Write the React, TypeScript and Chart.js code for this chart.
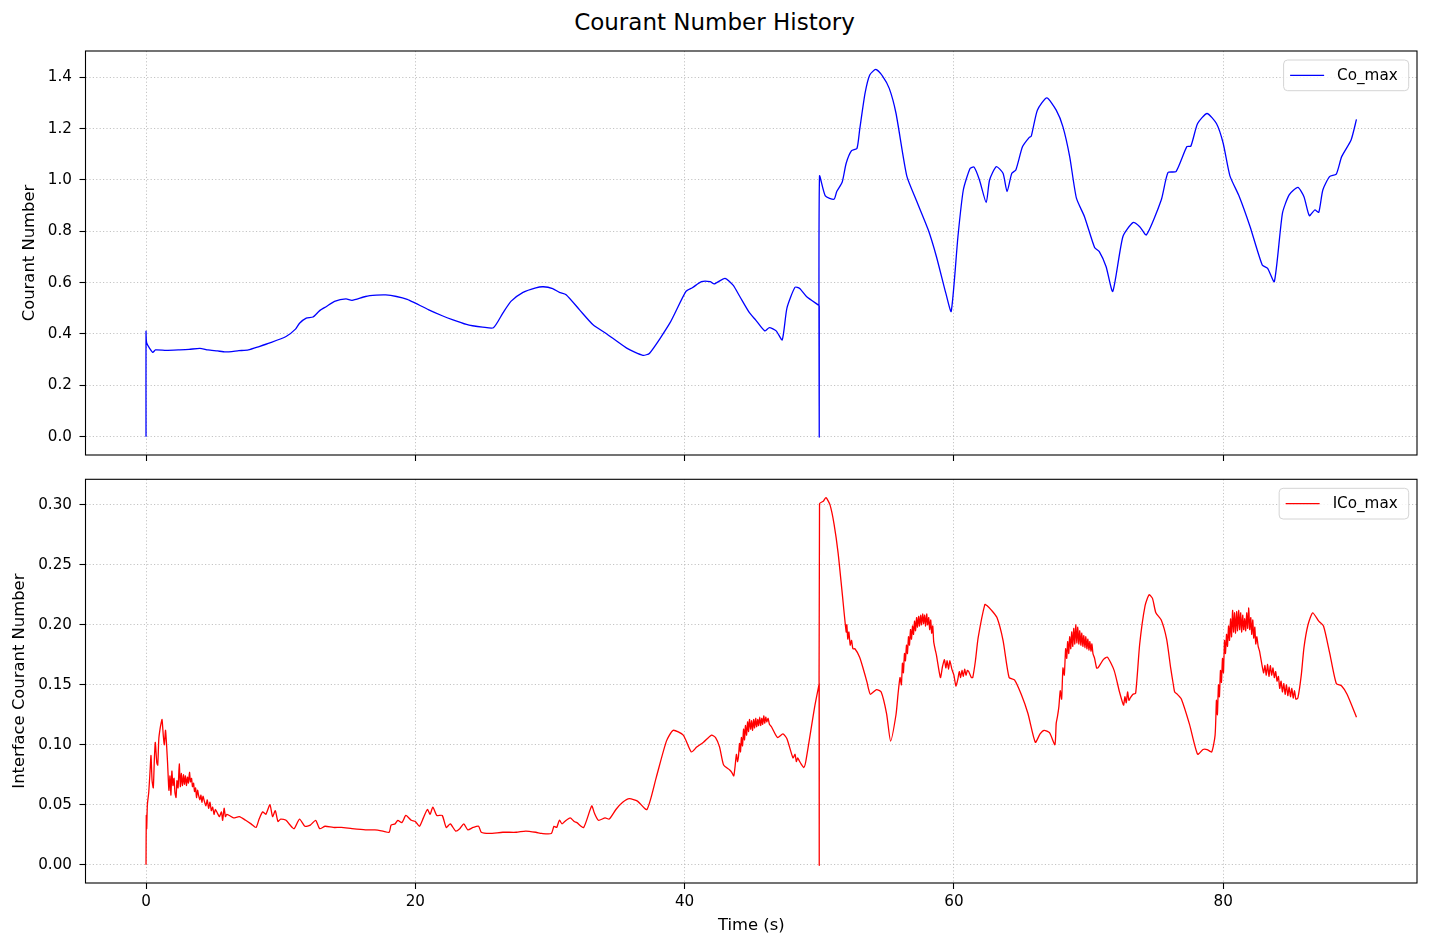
import React, { useEffect, useRef } from 'react';
import { Chart, registerables } from 'chart.js';

Chart.register(...registerables);

const FONT = '"DejaVu Sans", sans-serif';

// Co_max
const coTime = [
  0, 0, 0.05, 0.5, 0.7, 1.5, 2.5, 3.2, 4.0, 4.6, 5.3, 5.9, 6.9, 7.6, 8.4, 9.2, 10.4, 11.1, 11.4, 11.9,
  12.4, 12.9, 13.4, 14.0, 14.85, 15.3, 16.3, 17.1, 17.8, 18.6, 19.4, 20.0, 21.0, 22.0, 22.8, 23.8, 24.25,
  25.0, 25.8, 26.5, 27.1, 28.0, 28.95, 29.5, 30.2, 30.7, 31.2, 32.2, 33.2, 34.2, 35.7, 36.9, 37.4, 38.9,
  40.1, 40.6, 41.25, 41.9, 42.2, 43.0, 43.6, 44.1, 44.8, 45.3, 45.95, 46.3, 46.8, 47.25, 47.6, 48.2, 48.55,
  49.05, 49.98, 50.0, 50.0, 50.02, 50.45, 51.1, 51.3, 51.7, 52.0, 52.4, 52.8, 53.0, 53.4, 53.75, 54.2, 54.7, 55.2,
  55.7, 56.5, 57.2, 58.1, 58.7, 59.4, 59.8, 60.3, 60.7, 61.2, 61.5, 61.9, 62.4, 62.65, 63.15, 63.65, 63.95,
  64.3, 64.6, 65.1, 65.6, 65.75, 66.2, 66.9, 67.6, 68.1, 68.6, 69.1, 69.7, 70.45, 70.8, 71.3, 71.8, 72.55,
  73.3, 73.8, 74.3, 75.4, 75.9, 76.5, 77.3, 77.6, 78.1, 78.8, 79.5, 80.0, 80.5, 81.2, 82.0, 82.9, 83.3,
  83.8, 84.4, 84.9, 85.55, 86.0, 86.4, 86.8, 87.1, 87.4, 87.9, 88.4, 88.8, 89.5, 89.9,
];
const coValues = [
  0.0, 0.41, 0.365, 0.328, 0.338, 0.336, 0.338, 0.34, 0.344, 0.338, 0.334, 0.33, 0.335, 0.338, 0.351, 0.365,
  0.39, 0.419, 0.442, 0.462, 0.466, 0.491, 0.507, 0.527, 0.537, 0.531, 0.546, 0.551, 0.552, 0.546, 0.535,
  0.52, 0.494, 0.471, 0.455, 0.437, 0.432, 0.427, 0.424, 0.481, 0.527, 0.562, 0.58, 0.584, 0.577, 0.562,
  0.553, 0.494, 0.436, 0.401, 0.345, 0.317, 0.325, 0.442, 0.566, 0.581, 0.604, 0.604, 0.595, 0.617, 0.59,
  0.546, 0.484, 0.453, 0.412, 0.425, 0.412, 0.377, 0.501, 0.582, 0.577, 0.546, 0.511, 0.51, 0.0, 1.015, 0.938,
  0.925, 0.955, 0.991, 1.065, 1.114, 1.123, 1.195, 1.337, 1.409, 1.431, 1.405, 1.357, 1.26, 1.016, 0.922,
  0.805, 0.702, 0.559, 0.488, 0.779, 0.961, 1.045, 1.05, 1.0, 0.912, 1.0, 1.052, 1.026, 0.955, 1.026, 1.039,
  1.13, 1.166, 1.171, 1.272, 1.32, 1.272, 1.207, 1.091, 0.929, 0.857, 0.737, 0.721, 0.663, 0.566, 0.779,
  0.834, 0.818, 0.786, 0.922, 1.029, 1.033, 1.13, 1.132, 1.22, 1.259, 1.22, 1.143, 1.016, 0.935, 0.818,
  0.669, 0.656, 0.604, 0.87, 0.942, 0.971, 0.935, 0.861, 0.883, 0.874, 0.961, 1.013, 1.023, 1.091, 1.156,
  1.236,
];

// ICo_max (one line of times per line of values)
const icoTime = [
  0, 0.02, 0.05, 0.1, 0.2, 0.3, 0.37, 0.45, 0.54, 0.62, 0.69, 0.8, 0.87, 0.95, 1.04, 1.12, 1.19, 1.28, 1.36, 1.45, 1.6,
  1.7, 1.78, 1.85, 1.92, 2.0, 2.08, 2.15, 2.23, 2.3, 2.38, 2.47, 2.55, 2.62, 2.7, 2.78, 2.85, 2.93, 3.0, 3.08, 3.15, 3.23, 3.3, 3.38, 3.45, 3.53, 3.6, 3.68, 3.75, 3.83, 3.9, 4.0, 4.08, 4.15, 4.23, 4.33,
  4.45, 4.55, 4.65, 4.75, 4.85, 4.95, 5.05, 5.15, 5.3, 5.45, 5.6, 5.69, 5.8, 5.9, 6.0, 6.19, 6.5, 6.93, 7.4, 7.8, 8.17,
  8.4, 8.66, 8.9, 9.2, 9.4, 9.6, 9.8, 10.0, 10.4, 10.7, 11.0, 11.4, 11.8, 12.2, 12.6, 12.9, 13.3, 13.9, 14.5, 15.3, 16.3, 17.0, 17.6, 18.06,
  18.2, 18.5, 18.7, 19.0, 19.3, 19.7, 20.0, 20.3, 20.6, 20.9, 21.1, 21.3, 21.6, 22.0, 22.3, 22.6, 23.0, 23.3, 23.6, 23.9, 24.3, 24.7, 24.9, 25.5, 26.5, 27.5, 28.2, 28.95, 29.4, 30.1,
  30.3, 30.5, 30.7, 30.9, 31.1, 31.5, 31.8, 32.0, 32.5, 33.1, 33.3, 33.6, 34.1, 34.4, 34.9, 35.4, 35.9, 36.5, 37.2, 37.9, 38.65, 39.15, 39.9, 40.5, 40.9, 41.4, 42.0, 42.3, 42.6, 42.9, 43.35, 43.5, 43.65, 43.75, 43.85, 43.93,
  44.0, 44.08, 44.15, 44.22, 44.3, 44.38, 44.45, 44.52, 44.6, 44.68, 44.75, 44.82, 44.9, 44.98, 45.05, 45.13, 45.2, 45.28, 45.35, 45.43, 45.5, 45.58, 45.65, 45.73, 45.8, 45.88, 45.95, 46.03, 46.1, 46.2, 46.3,
  46.45, 46.9, 47.3, 47.6, 48.05, 48.2, 48.3, 48.4, 48.5, 48.65, 48.85, 49.0, 49.65, 49.98, 50.0, 50.0,
  50.02, 50.3, 50.5, 50.8, 51.1, 51.4, 51.7, 52.0, 52.05, 52.12, 52.2, 52.3, 52.4, 52.5, 52.65, 53.0, 53.25, 53.55, 53.65, 53.8, 54.25, 54.6, 55.0, 55.3, 55.7, 55.85, 56.0,
  56.1, 56.18, 56.25, 56.33, 56.4, 56.48, 56.55, 56.63, 56.7, 56.78, 56.85, 56.93, 57.0, 57.08, 57.15, 57.23, 57.3, 57.38, 57.45, 57.53, 57.6, 57.68, 57.75, 57.83, 57.9, 57.98, 58.05, 58.13, 58.2, 58.28, 58.35, 58.43, 58.5, 58.6,
  58.7, 59.0, 59.15, 59.3, 59.4, 59.5, 59.6, 59.7, 59.85, 60.0, 60.15, 60.3, 60.4, 60.5, 60.6, 60.7, 60.8, 60.9, 61.0, 61.1, 61.3, 61.4, 61.6, 61.8,
  62.3, 62.45, 62.8, 63.2, 63.65, 64.1, 64.5, 65.0, 65.5, 66.05, 66.4, 66.7, 67.1, 67.5, 67.6, 67.7, 67.8, 67.9, 68.0, 68.1, 68.2,
  68.3, 68.38, 68.45, 68.53, 68.6, 68.68, 68.75, 68.83, 68.9, 68.98, 69.05, 69.13, 69.2, 69.28, 69.35, 69.43, 69.5, 69.58, 69.65, 69.73, 69.8, 69.88, 69.95, 70.03, 70.1, 70.18, 70.25, 70.33, 70.45, 70.6,
  70.7, 71.1, 71.4, 71.9, 72.3, 72.6, 72.7, 72.8, 72.9, 73.0, 73.1, 73.3, 73.5, 73.8, 74.2, 74.5, 74.75, 75.0, 75.4, 75.8, 76.1, 76.3, 76.4, 76.6, 76.9, 77.5, 78.1, 78.5, 78.8, 79.15, 79.4,
  79.5, 79.57, 79.65, 79.72, 79.8, 79.87, 79.95, 80.02, 80.1, 80.17, 80.25, 80.32, 80.4, 80.47, 80.55, 80.62, 80.7, 80.77, 80.85, 80.92, 81.0, 81.07, 81.15, 81.22, 81.3, 81.37, 81.45, 81.52, 81.6, 81.67, 81.75, 81.82, 81.9, 81.97, 82.05, 82.12, 82.2, 82.27, 82.35, 82.42, 82.5, 82.6, 82.7,
  83.0, 83.1, 83.2, 83.3, 83.4, 83.5, 83.6, 83.7, 83.8, 83.9, 84.0, 84.1, 84.2, 84.3, 84.4, 84.5, 84.6, 84.7, 84.8, 84.9, 85.0, 85.1, 85.2, 85.3, 85.4, 85.55,
  85.8, 86.0, 86.3, 86.65, 87.1, 87.45, 87.9, 88.4, 88.8, 89.2, 89.9,
];
const icoValues = [
  0.0, 0.041, 0.03, 0.05, 0.06, 0.078, 0.091, 0.07, 0.064, 0.088, 0.102, 0.085, 0.083, 0.105, 0.113, 0.118, 0.121, 0.108, 0.1, 0.112, 0.085,
  0.062, 0.074, 0.058, 0.078, 0.066, 0.072, 0.06, 0.056, 0.07, 0.064, 0.084, 0.065, 0.076, 0.066, 0.075, 0.067, 0.074, 0.066, 0.073, 0.068, 0.077, 0.069, 0.072, 0.065, 0.068, 0.061, 0.064, 0.056, 0.062, 0.058, 0.054, 0.058, 0.052, 0.057, 0.053,
  0.049, 0.054, 0.047, 0.052, 0.045, 0.048, 0.042, 0.046, 0.043, 0.04, 0.044, 0.037, 0.047, 0.04, 0.042, 0.041, 0.039, 0.04, 0.037, 0.034, 0.031,
  0.038, 0.044, 0.042, 0.05, 0.04, 0.045, 0.036, 0.038, 0.037, 0.033, 0.03, 0.038, 0.032, 0.033, 0.037, 0.03, 0.032, 0.031, 0.031, 0.03, 0.029, 0.029, 0.028, 0.027,
  0.033, 0.034, 0.037, 0.035, 0.041, 0.037, 0.036, 0.032, 0.039, 0.046, 0.042, 0.048, 0.041, 0.041, 0.031, 0.034, 0.028, 0.03, 0.034, 0.029, 0.031, 0.032, 0.027, 0.026, 0.027, 0.027, 0.028, 0.027, 0.026, 0.026,
  0.032, 0.031, 0.037, 0.034, 0.036, 0.039, 0.036, 0.035, 0.031, 0.049, 0.043, 0.037, 0.039, 0.038, 0.046, 0.052, 0.055, 0.053, 0.046, 0.073, 0.103, 0.112, 0.108, 0.094, 0.098, 0.102, 0.108, 0.106, 0.098, 0.083, 0.079, 0.077, 0.074, 0.082, 0.092, 0.086,
  0.09, 0.101, 0.094, 0.106, 0.099, 0.113, 0.104, 0.116, 0.108, 0.119, 0.111, 0.121, 0.113, 0.12, 0.112, 0.121, 0.114, 0.122, 0.115, 0.121, 0.116, 0.123, 0.116, 0.122, 0.117, 0.124, 0.118, 0.123, 0.119, 0.122, 0.117,
  0.115, 0.106, 0.109, 0.105, 0.089, 0.092, 0.086, 0.089, 0.087, 0.084, 0.081, 0.086, 0.131, 0.15, 0.151, 0.0,
  0.301, 0.303, 0.306, 0.3, 0.284, 0.26, 0.227, 0.194, 0.2, 0.188, 0.194, 0.183, 0.187, 0.18, 0.18, 0.173, 0.164, 0.152, 0.147, 0.142, 0.146, 0.144, 0.126, 0.103, 0.125, 0.142, 0.156,
  0.15, 0.168, 0.16, 0.176, 0.17, 0.183, 0.176, 0.19, 0.183, 0.196, 0.188, 0.199, 0.192, 0.203, 0.195, 0.206, 0.198, 0.207, 0.199, 0.208, 0.2, 0.209, 0.201, 0.208, 0.199, 0.209, 0.2, 0.206, 0.196, 0.204, 0.193, 0.199, 0.186, 0.18,
  0.175, 0.156, 0.165, 0.171, 0.164, 0.17, 0.163, 0.17, 0.163, 0.158, 0.149, 0.155, 0.161, 0.156, 0.162, 0.157, 0.163, 0.158, 0.162, 0.161, 0.156, 0.156, 0.17, 0.189,
  0.217, 0.216, 0.212, 0.206, 0.187, 0.156, 0.154, 0.142, 0.126, 0.102, 0.109, 0.112, 0.11, 0.1, 0.118, 0.124, 0.132, 0.145, 0.138, 0.164, 0.158,
  0.18, 0.172, 0.186, 0.176, 0.19, 0.18, 0.194, 0.182, 0.197, 0.184, 0.2, 0.185, 0.198, 0.184, 0.195, 0.183, 0.193, 0.182, 0.191, 0.181, 0.19, 0.18, 0.188, 0.179, 0.186, 0.178, 0.184, 0.176, 0.172, 0.164,
  0.164, 0.171, 0.173, 0.162, 0.144, 0.133, 0.14, 0.135, 0.144, 0.137, 0.139, 0.142, 0.143, 0.184, 0.216, 0.225, 0.222, 0.21, 0.204, 0.188, 0.164, 0.15, 0.144, 0.142, 0.138, 0.117, 0.092, 0.096, 0.096, 0.094, 0.108,
  0.137, 0.125, 0.15, 0.14, 0.162, 0.152, 0.172, 0.16, 0.187, 0.176, 0.192, 0.182, 0.199, 0.187, 0.205, 0.19, 0.212, 0.194, 0.21, 0.193, 0.211, 0.195, 0.212, 0.196, 0.21, 0.194, 0.208, 0.196, 0.205, 0.195, 0.21, 0.197, 0.214, 0.196, 0.206, 0.192, 0.204, 0.189, 0.198, 0.184, 0.19, 0.182, 0.178,
  0.16, 0.166, 0.158, 0.167, 0.157, 0.166, 0.158, 0.164, 0.156, 0.161, 0.153, 0.157, 0.147, 0.153, 0.144, 0.151, 0.142, 0.15, 0.141, 0.148, 0.14, 0.147, 0.139, 0.145, 0.138, 0.139,
  0.158, 0.181, 0.2, 0.21, 0.203, 0.199, 0.177, 0.151, 0.149, 0.142, 0.123,
];

const xTicks = [0, 20, 40, 60, 80];
const coTicks = [0, 0.2, 0.4, 0.6, 0.8, 1.0, 1.2, 1.4];
const icoTicks = [0, 0.05, 0.1, 0.15, 0.2, 0.25, 0.3];

// matplotlib-style 5% margins
const padded = (vals: number[]) => {
  const lo = Math.min(...vals);
  const hi = Math.max(...vals);
  const m = (hi - lo) * 0.05;
  return [lo - m, hi + m];
};
const xRange = padded([...coTime, ...icoTime]);

// frame around the axes + boxed legend in upper right corner
const framePlugin = {
  id: 'frameLegend',
  afterDraw(chart: any) {
    const opts = chart.options.plugins.frameLegend;
    const { ctx, chartArea } = chart;
    ctx.save();
    ctx.strokeStyle = '#000';
    ctx.lineWidth = 1.1;
    ctx.strokeRect(chartArea.left, chartArea.top, chartArea.right - chartArea.left, chartArea.bottom - chartArea.top);

    ctx.font = `15.2px ${FONT}`;
    const tw = ctx.measureText(opts.text).width;
    const w = 6.5 + 34 + 13 + tw + 11;
    const h = 30.7;
    const x = chartArea.right - 8.3 - w;
    const y = chartArea.top + 9;
    ctx.beginPath();
    ctx.roundRect(x, y, w, h, 4);
    ctx.fillStyle = 'rgba(255,255,255,0.8)';
    ctx.fill();
    ctx.strokeStyle = '#d4d4d4';
    ctx.lineWidth = 1;
    ctx.stroke();
    ctx.beginPath();
    ctx.moveTo(x + 6.5, y + h / 2);
    ctx.lineTo(x + 40.5, y + h / 2);
    ctx.strokeStyle = opts.color;
    ctx.lineWidth = 1.3;
    ctx.stroke();
    ctx.fillStyle = '#000';
    ctx.textBaseline = 'middle';
    ctx.textAlign = 'left';
    ctx.fillText(opts.text, x + 53.5, y + h / 2 + 0.5);
    ctx.restore();
  },
};

type PanelProps = {
  time: number[];
  values: number[];
  label: string;
  color: string;
  yTitle: string;
  yTicks: number[];
  decimals: number;
  showX: boolean;
  top: number;
  height: number;
  padTop: number;
  xHeight: number;
  titlePad: number;
};

const Panel: React.FC<PanelProps> = (p) => {
  const canvasRef = useRef<HTMLCanvasElement | null>(null);
  const chartRef = useRef<Chart | null>(null);

  useEffect(() => {
    if (!canvasRef.current) return;
    if (chartRef.current) chartRef.current.destroy();
    const yRange = padded(p.values);
    const grid = {
      color: 'rgba(176,176,176,0.75)',
      lineWidth: 1,
      tickColor: '#000',
      tickLength: 6,
      tickWidth: 1.1,
      tickBorderDash: [],
    };
    // in Chart.js 4 the grid line dash lives on the border options
    const border = { display: false, dash: [1.2, 2.2] };
    chartRef.current = new Chart(canvasRef.current, {
      type: 'line',
      data: {
        datasets: [
          {
            label: p.label,
            data: p.time.map((t, i) => ({ x: t, y: p.values[i] })),
            borderColor: p.color,
            borderWidth: 1.3,
            pointRadius: 0,
            tension: 0.2,
            fill: false,
          },
        ],
      },
      plugins: [framePlugin],
      options: {
        responsive: false,
        animation: false,
        events: [],
        layout: { padding: { top: p.padTop, right: 12, bottom: 0, left: 0 } },
        plugins: {
          legend: { display: false },
          tooltip: { enabled: false },
          frameLegend: { text: p.label, color: p.color },
        } as any,
        scales: {
          x: {
            type: 'linear',
            min: xRange[0],
            max: xRange[1],
            border,
            grid,
            afterBuildTicks: (s: any) => {
              s.ticks = xTicks.map((v) => ({ value: v }));
            },
            afterFit: (s: any) => {
              s.height = p.xHeight;
              s.paddingLeft = 0;
              s.paddingRight = 0;
            },
            ticks: {
              padding: 4,
              color: '#000',
              font: { family: FONT, size: 15.2 },
              maxRotation: 0,
              callback: (v: any) => (p.showX ? String(v) : ''),
            },
            title: {
              display: p.showX,
              text: 'Time (s)',
              color: '#000',
              font: { family: FONT, size: 16.4 },
              padding: { top: 0, bottom: 13 },
            },
          },
          y: {
            type: 'linear',
            min: yRange[0],
            max: yRange[1],
            border,
            grid,
            afterBuildTicks: (s: any) => {
              s.ticks = p.yTicks.map((v) => ({ value: v }));
            },
            afterFit: (s: any) => {
              s.width = 85.5;
              s.paddingTop = 0;
              s.paddingBottom = 0;
            },
            ticks: {
              padding: 7.5,
              color: '#000',
              font: { family: FONT, size: 15.2 },
              callback: (v: any) => Number(v).toFixed(p.decimals),
            },
            title: {
              display: true,
              text: p.yTitle,
              color: '#000',
              font: { family: FONT, size: 16.4 },
              padding: { top: p.titlePad, bottom: 0 },
            },
          },
        },
      } as any,
    });
    return () => {
      if (chartRef.current) {
        chartRef.current.destroy();
        chartRef.current = null;
      }
    };
  }, []);

  return (
    <canvas
      ref={canvasRef}
      width={1429}
      height={p.height}
      style={{ position: 'absolute', left: 0, top: p.top, width: 1429, height: p.height }}
    />
  );
};

const App: React.FC = () => {
  useEffect(() => {
    document.body.style.margin = '0';
  }, []);

  return (
    <div style={{ position: 'relative', width: 1429, height: 949, background: '#fff', overflow: 'hidden' }}>
      <div
        style={{
          position: 'absolute',
          top: 8,
          left: 0,
          width: 1429,
          textAlign: 'center',
          fontFamily: FONT,
          fontSize: 23,
          lineHeight: '28px',
          color: '#000',
        }}
      >
        Courant Number History
      </div>
      <Panel
        time={coTime}
        values={coValues}
        label="Co_max"
        color="#0000ff"
        yTitle="Courant Number"
        yTicks={coTicks}
        decimals={1}
        showX={false}
        top={40}
        height={440}
        padTop={11}
        xHeight={25}
        titlePad={20}
      />
      <Panel
        time={icoTime}
        values={icoValues}
        label="ICo_max"
        color="#ff0000"
        yTitle="Interface Courant Number"
        yTicks={icoTicks}
        decimals={2}
        showX={true}
        top={470}
        height={479}
        padTop={9.3}
        xHeight={66}
        titlePad={10}
      />
    </div>
  );
};

export default App;
